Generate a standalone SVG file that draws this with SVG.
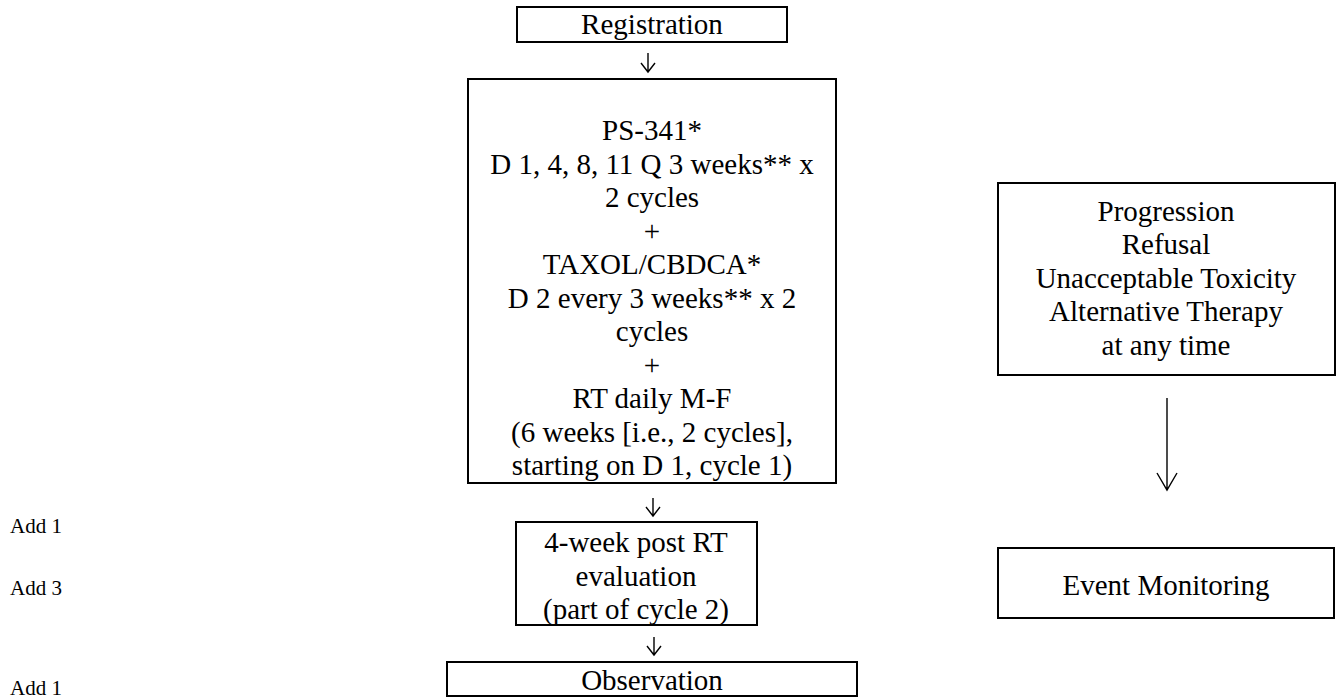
<svg xmlns="http://www.w3.org/2000/svg" width="1338" height="698" viewBox="0 0 1338 698">
<style>
.box{fill:#fff;stroke:#000;stroke-width:2}
.t{font-family:"Liberation Serif","Times New Roman",serif;font-size:29px;fill:#000;text-anchor:middle}
.s{font-family:"Liberation Serif","Times New Roman",serif;font-size:21px;fill:#000}
.c{fill:none;stroke:#000;stroke-width:1.4}
</style>
<rect width="1338" height="698" fill="#fff"/>
<g id="registration">
<rect class="box" x="517" y="7" width="270" height="35"/>
<text class="t" x="652" y="34">Registration</text>
</g>
<g id="treatment">
<rect class="box" x="468" y="79" width="368" height="404"/>
<text class="t" x="652" y="140">PS-341*</text>
<text class="t" x="652" y="173.5">D 1, 4, 8, 11 Q 3 weeks** x</text>
<text class="t" x="652" y="207">2 cycles</text>
<text class="t" x="652" y="240.5">+</text>
<text class="t" x="652" y="274">TAXOL/CBDCA*</text>
<text class="t" x="652" y="307.5">D 2 every 3 weeks** x 2</text>
<text class="t" x="652" y="341">cycles</text>
<text class="t" x="652" y="374.5">+</text>
<text class="t" x="652" y="408">RT daily M-F</text>
<text class="t" x="652" y="441.5">(6 weeks [i.e., 2 cycles],</text>
<text class="t" x="652" y="475">starting on D 1, cycle 1)</text>
</g>
<g id="evaluation">
<rect class="box" x="516" y="522" width="241" height="103"/>
<text class="t" x="636" y="552">4-week post RT</text>
<text class="t" x="636" y="585.5">evaluation</text>
<text class="t" x="636" y="619">(part of cycle 2)</text>
</g>
<g id="observation">
<rect class="box" x="447" y="662" width="410" height="34"/>
<text class="t" x="652" y="690">Observation</text>
</g>
<g id="offstudy">
<rect class="box" x="998" y="183" width="337" height="192"/>
<text class="t" x="1166" y="220.5">Progression</text>
<text class="t" x="1166" y="254">Refusal</text>
<text class="t" x="1166" y="287.5">Unacceptable Toxicity</text>
<text class="t" x="1166" y="321">Alternative Therapy</text>
<text class="t" x="1166" y="354.5">at any time</text>
</g>
<g id="event-monitoring">
<rect class="box" x="998" y="548" width="336" height="70"/>
<text class="t" x="1166" y="595">Event Monitoring</text>
</g>
<g id="labels">
<text class="s" x="10" y="533">Add 1</text>
<text class="s" x="10" y="595">Add 3</text>
<text class="s" x="10" y="695">Add 1</text>
</g>
<g id="connectors">
<path class="c" d="M648 53V72M641 63L648 72L655 63"/>
<path class="c" d="M653 498V516M646 507L653 516L660 507"/>
<path class="c" d="M654 637V655M647 646L654 655L661 646"/>
<path class="c" d="M1167 398V490M1157 473L1167 490L1177 473"/>
</g>
</svg>
